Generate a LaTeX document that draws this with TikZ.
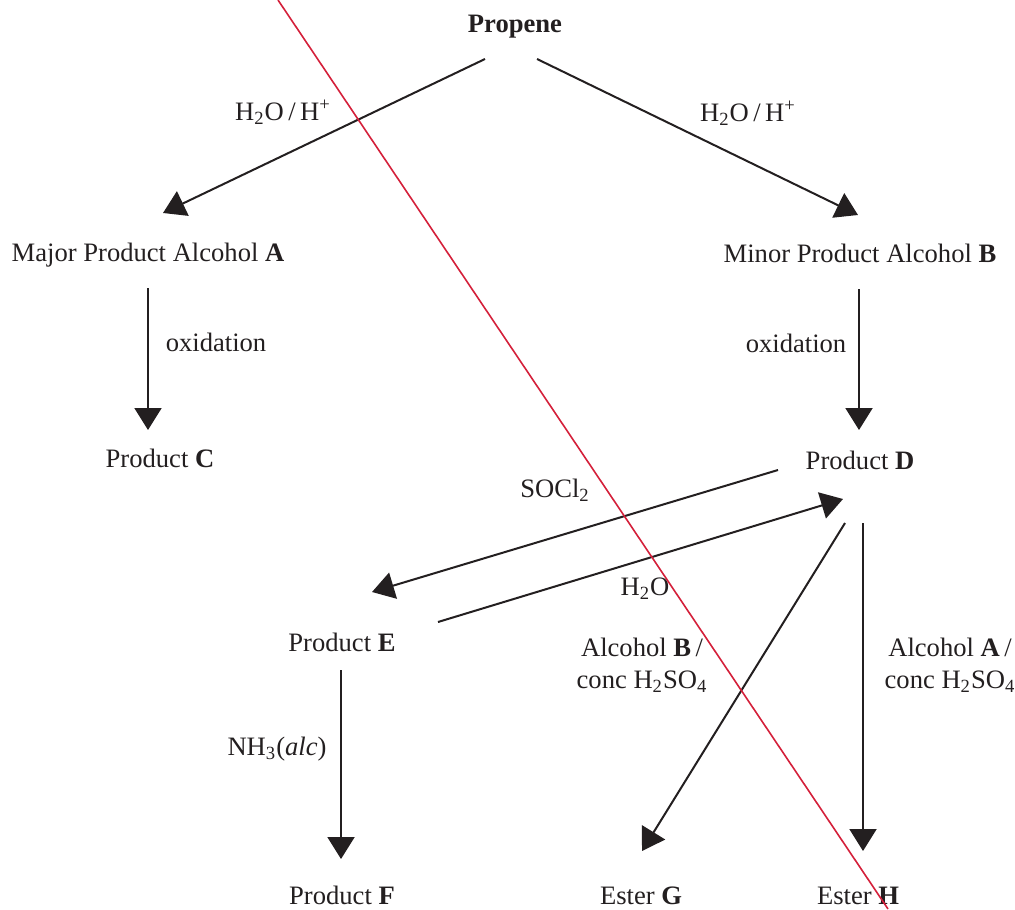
\documentclass[tikz,border=0pt]{standalone}
\usepackage{fontspec}
\setmainfont{Liberation Serif}
\usepackage{xcolor}
\usepackage{tikz}
\usetikzlibrary{arrows.meta}
\definecolor{inkgrey}{HTML}{231F20}
\definecolor{markred}{RGB}{212,32,58}
\tikzset{
  chem/.style={inner sep=0pt,text height=0.7em,text depth=0.25em,text=inkgrey},
  cond/.style={inner sep=0pt,text height=0.7em,text depth=0.25em,text=inkgrey,align=center},
  arr/.style={-{Triangle[length=11pt,width=13.5pt]},line width=1pt,draw=inkgrey},
  strike/.style={line width=0.8pt,draw=markred},
}
\newcommand{\sub}[1]{\textsubscript{#1}}

\begin{document}
\begin{tikzpicture}[x=0.5pt,y=-0.5pt,font=\fontsize{13.3}{16}\selectfont]
\useasboundingbox (0,0) rectangle (1015,909);
% compounds
\node[chem] (propene) at (515,28) {\textbf{Propene}};
\node[chem] (alcA) at (148,257) {Major Product Alcohol \textbf{A}};
\node[chem] (alcB) at (860,258) {Minor Product Alcohol \textbf{B}};
\node[chem] (prodC) at (160,463) {Product \textbf{C}};
\node[chem] (prodD) at (860,465) {Product \textbf{D}};
\node[chem] (prodE) at (342,647) {Product \textbf{E}};
\node[chem] (prodF) at (342,900) {Product \textbf{F}};
\node[chem] (esterG) at (641,900) {Ester \textbf{G}};
\node[chem] (esterH) at (858,900) {Ester \textbf{H}};
% reagents
\node[cond] (hydA) at (283,116) {H\sub{2}O\,/\,H\textsuperscript{+}};
\node[cond] (hydB) at (748,117) {H\sub{2}O\,/\,H\textsuperscript{+}};
\node[cond] (oxA) at (216,347) {oxidation};
\node[cond] (oxB) at (796,348) {oxidation};
\node[cond] (socl) at (555,493) {SOCl\sub{2}};
\node[cond] (water) at (645,591) {H\sub{2}O};
\node[cond] (esterB) at (642,684) {Alcohol \textbf{B}\,/\\conc H\sub{2}SO\sub{4}};
\node[cond] (esterA) at (950,684) {Alcohol \textbf{A}\,/\\conc H\sub{2}SO\sub{4}};
\node[cond] (ammonia) at (277,751) {NH\sub{3}(\textit{alc})};
% reactions
\draw[arr] ([shift={(-30,31)}]propene.center) -- ([shift={(15,-44)}]alcA.center);
\draw[arr] ([shift={(22,31)}]propene.center) -- ([shift={(-2,-43)}]alcB.center);
\draw[arr] ([shift={(0,31)}]alcA.center) -- ([shift={(-12,-33)}]prodC.center);
\draw[arr] ([shift={(-1,31)}]alcB.center) -- ([shift={(-1,-35)}]prodD.center);
\draw[arr] ([shift={(-82,5)}]prodD.center) -- ([shift={(30,-55)}]prodE.center);
\draw[arr] ([shift={(96,-25)}]prodE.center) -- ([shift={(-17,34)}]prodD.center);
\draw[arr] ([shift={(-15,58)}]prodD.center) -- ([shift={(1,-49)}]esterG.center);
\draw[arr] ([shift={(3,58)}]prodD.center) -- ([shift={(5,-49)}]esterH.center);
\draw[arr] ([shift={(-1,23)}]prodE.center) -- ([shift={(-1,-41)}]prodF.center);
% red strike line
\coordinate (strikeTop) at (278,0);
\coordinate (strikeEnd) at (888,909);
\draw[strike] (strikeTop) -- (strikeEnd);
\end{tikzpicture}
\end{document}
